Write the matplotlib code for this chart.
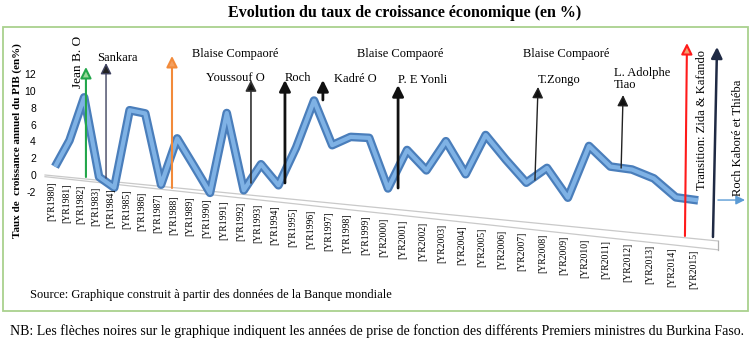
import numpy as np
import matplotlib
matplotlib.use("Agg")
import matplotlib.pyplot as plt
import matplotlib.transforms as mtransforms
from matplotlib.patches import Rectangle

# ---------------- data ----------------
years = list(range(1980, 2016))
growth = [1.1, 4.4, 9.7, 0.4, -0.7, 8.7, 8.5, 0.2, 5.9, 2.9,
          -0.2, 9.5, 0.5, 3.8, 1.5, 6.2, 12.0, 6.9, 8.1, 8.2,
          2.4, 7.2, 5.0, 8.7, 5.0, 9.9, 7.2, 4.7, 6.7, 3.4,
          9.8, 7.6, 7.5, 6.7, 4.7, 4.6]
tick_labels = [f"[YR{y}]" for y in years]
y_ticks = [-2, 0, 2, 4, 6, 8, 10, 12]

title = "Evolution du taux de croissance économique (en %)"
ylabel = "Taux de  croissance annuel du PIB (en%)"
source = "Source: Graphique construit à partir des données de la Banque mondiale"
note = ("NB: Les flèches noires sur le graphique indiquent les années de prise de "
        "fonction des différents Premiers ministres du Burkina Faso.")

# ---------------- figure ----------------
W, H, DPI = 751, 340, 100
SERIF = ["Liberation Serif", "DejaVu Serif"]
plt.rcParams["font.family"] = SERIF
fig = plt.figure(figsize=(W / DPI, H / DPI), dpi=DPI)
ax = fig.add_axes([0, 0, 1, 1])
ax.set_facecolor("none")
fig.patch.set_facecolor("white")

# perspective-like widening of the category axis
A, B = 14.35, 0.115
def fwd(i):
    i = np.asarray(i, dtype=float)
    return A * i + B * i ** 2
def inv(f):
    f = np.asarray(f, dtype=float)
    return (-A + np.sqrt(np.clip(A ** 2 + 4 * B * f, 0, None))) / (2 * B)

ax.set_xscale("function", functions=(fwd, inv))
ax.set_xlim(float(inv(-55)), float(inv(W - 55)))
PX_PER_UNIT = 8.4
ZERO_PX = 175
ax.set_ylim(-(H - ZERO_PX) / PX_PER_UNIT, ZERO_PX / PX_PER_UNIT)
for s in ax.spines.values():
    s.set_visible(False)
ax.set_xticks([])

# y axis on the left wall
ax.spines["left"].set_position(("data", -0.85))
ax.set_yticks(y_ticks)
ax.set_yticklabels([str(v) for v in y_ticks], family="Liberation Sans", fontsize=7.5)
ax.tick_params(axis="y", length=0, pad=5)

# shear (floor receding to the right) in display space
K = 0.098
X0 = 45
shear = mtransforms.Affine2D(np.array([[1, 0, 0], [-K, 1, K * X0], [0, 0, 1]]))
tsk = ax.transData + shear

x = np.arange(len(years))

# floor
i_left, i_right = -0.7, 35.9
ax.plot([i_left, i_right], [0, 0], color="#c9c9c9", lw=0.9, transform=tsk)
ax.plot([i_left, i_right], [-0.2, -1.05], color="#c9c9c9", lw=0.9, transform=tsk)
ax.plot([i_right, i_right], [0, -1.05], color="#b0b0b0", lw=0.9, transform=tsk)

# growth ribbon
ax.plot(x, growth, color="#4a7ebb", lw=6.2, solid_joinstyle="round",
        solid_capstyle="butt", transform=tsk, zorder=3)
ax.plot(x, growth, color="#7fb2e5", lw=3.0, solid_joinstyle="round",
        solid_capstyle="butt", transform=tsk, zorder=4)

# category labels below the floor
for i, lab in zip(x, tick_labels):
    ax.text(i - 0.2, -0.75 - 0.016 * i, lab, rotation=90, ha="center", va="top",
            fontsize=7, transform=tsk)

# arrows
def arrow(xb, yb, xt, yt, ec, fc, lw, ms=11, hl=0.6, hw=0.3, z=5):
    ax.annotate("", xy=(xt, yt), xytext=(xb, yb),
                arrowprops=dict(arrowstyle=f"-|>,head_length={hl},head_width={hw}",
                                ec=ec, fc=fc, lw=lw, shrinkA=0, shrinkB=0,
                                mutation_scale=ms),
                zorder=z)

arrow(2.12, -0.24, 2.12, 12.86, "#22a64a", "#9ad89a", 1.5)      # Jean B. O
arrow(3.46, -0.36, 3.46, 13.33, "#3f4260", "#222222", 1.0)      # Sankara
arrow(7.68, -1.55, 7.68, 14.17, "#f28a3a", "#f4a060", 1.5)      # Blaise Compaoré
arrow(12.42, -0.95, 12.42, 11.31, "#333333", "#111111", 1.2)    # Youssouf O
arrow(14.37, -0.95, 14.37, 11.31, "#111111", "#111111", 2.0)    # Roch
arrow(16.49, 8.93, 16.49, 11.31, "#111111", "#111111", 2.0)     # Kadré O
arrow(20.53, -1.55, 20.53, 10.71, "#111111", "#111111", 2.0)    # P. E Yonli
arrow(27.42, -0.6, 27.57, 10.48, "#222222", "#111111", 1.0)     # T.Zongo
arrow(31.5, 0.83, 31.59, 9.52, "#222222", "#111111", 1.0)       # L. Adolphe Tiao
arrow(34.41, -7.26, 34.5, 15.71, "#ff1a1a", "#f4a070", 1.5)     # Transition
arrow(35.66, -7.38, 35.84, 15.24, "#1f2a44", "#1f2a44", 1.8)    # Roch Kaboré
arrow(35.88, -2.98, 37.07, -2.98, "#5b9bd5", "#5b9bd5", 1.0, ms=9)

# texts (figure pixel positions)
def px(xp, yp):
    return xp / W, 1 - yp / H

def ftxt(xp, yp, s, **kw):
    kw.setdefault("fontsize", 9)
    fig.text(*px(xp, yp), s, **kw)

ftxt(405, 13, title, ha="center", va="center", fontsize=11.5, weight="bold")
ftxt(17, 141, ylabel, ha="center", va="center", rotation=90, fontsize=8, weight="bold")
ftxt(78, 62, "Jean B. O", ha="center", va="center", rotation=90, fontsize=9.5)
ftxt(117, 58, "Sankara", ha="center", va="center")
for cx in (235, 400, 566):
    ftxt(cx, 54, "Blaise Compaoré", ha="center", va="center")
ftxt(235, 78, "Youssouf O", ha="center", va="center")
ftxt(298, 78, "Roch", ha="center", va="center")
ftxt(355, 79, "Kadré O", ha="center", va="center")
ftxt(423, 80, "P. E Yonli", ha="center", va="center")
ftxt(559, 80, "T.Zongo", ha="center", va="center")
ftxt(614, 79, "L. Adolphe\nTiao", ha="left", va="center", linespacing=1.0)
ftxt(702, 120, "Transition: Zida & Kafando", ha="center", va="center", rotation=90)
ftxt(738, 138, "Roch Kaboré et Thiéba", ha="center", va="center", rotation=90)
ftxt(30, 295, source, ha="left", va="center")
ftxt(10, 331, note, ha="left", va="center", fontsize=10)

# frame box
fig.patches.append(Rectangle(px(3, 311), 745 / W, 284 / H, transform=fig.transFigure,
                             fill=False, ec="#a9d18e", lw=1.3))

fig.savefig("out.png", dpi=DPI, facecolor="white")
